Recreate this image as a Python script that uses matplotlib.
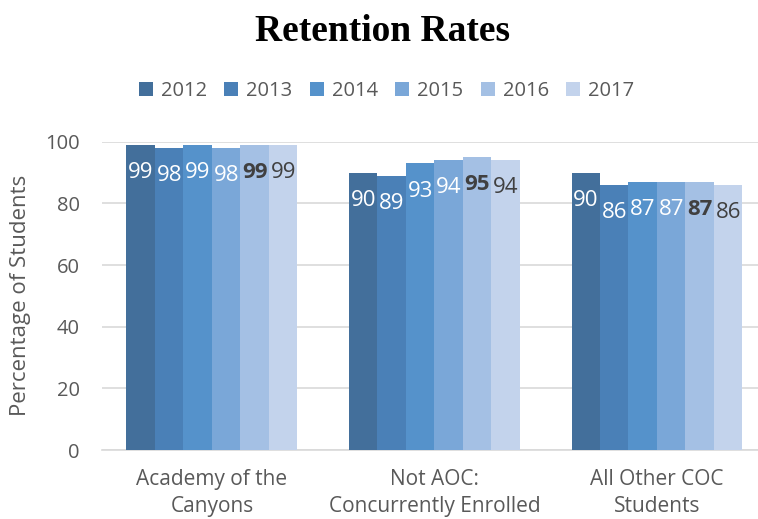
import numpy as np
import matplotlib
matplotlib.use("Agg")
import matplotlib.pyplot as plt

groups = ["Academy of the\nCanyons", "Not AOC:\nConcurrently Enrolled", "All Other COC\nStudents"]
years = ["2012", "2013", "2014", "2015", "2016", "2017"]
rates = {
    "2012": [99, 90, 90],
    "2013": [98, 89, 86],
    "2014": [99, 93, 87],
    "2015": [98, 94, 87],
    "2016": [99, 95, 87],
    "2017": [99, 94, 86],
}
colors = ["#436f9b", "#4a80b7", "#5592cb", "#7aa7d8", "#a4c0e4", "#c3d3ec"]

plt.rcParams['font.family'] = ['Open Sans', 'DejaVu Sans']

fig = plt.figure(figsize=(7.58, 5.19), dpi=100)
ax = fig.add_axes([102/758, 69/519, 656/758, 308.3/519])

x = np.arange(len(groups))
w = 0.128
for i, y in enumerate(years):
    pos = x + (i - 2.5) * w
    bars = ax.bar(pos, rates[y], w, color=colors[i], label=y, zorder=3)
    for b, v in zip(bars, rates[y]):
        if i < 4:
            col, wt = "white", "normal"
        elif i == 4:
            col, wt = "#404040", "bold"
        else:
            col, wt = "#404040", "normal"
        ax.annotate(str(v), (b.get_x() + w/2, v), xytext=(0, -20),
                    textcoords="offset points", ha="center", va="center",
                    fontsize=16, color=col, fontweight=wt, zorder=4)

ax.set_ylim(0, 100)
ax.set_xlim(-0.494, 2.454)
ax.set_yticks(range(0, 101, 20))
ax.grid(axis="y", color="#d9d9d9", linewidth=1.2, zorder=0)
for s in ["top", "right", "left"]:
    ax.spines[s].set_visible(False)
ax.spines["bottom"].set_color("#d9d9d9")
ax.spines["bottom"].set_linewidth(1.2)
ax.tick_params(axis="both", length=0, colors="#595959")
ax.tick_params(axis="y", labelsize=14.5, pad=16)
ax.tick_params(axis="x", labelsize=15, pad=14)
ax.set_xticks(x)
ax.set_xticklabels(groups, linespacing=1.35)
ax.set_ylabel("Percentage of Students", fontsize=16, color="#595959", labelpad=10)

fig.text(0.505, 0.94, "Retention Rates", ha="center", va="center",
         fontsize=27, fontweight="bold", family="Liberation Serif")
fig.legend(loc="center", bbox_to_anchor=(0.51, 0.824), ncol=6, frameon=False,
           fontsize=14.5, labelcolor="#595959", handlelength=0.7, handleheight=0.7,
           handletextpad=0.4, columnspacing=0.85)

fig.savefig("out.png", dpi=100)
